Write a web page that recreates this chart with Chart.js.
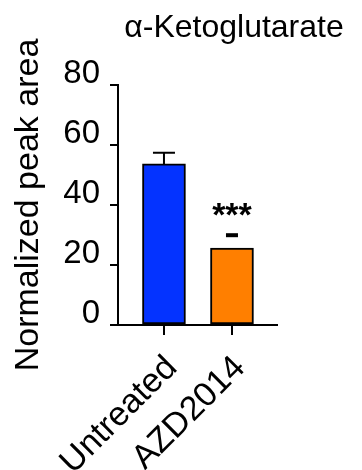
<!DOCTYPE html>
<html>
<head>
<meta charset="utf-8">
<script src="https://cdn.jsdelivr.net/npm/chart.js@4/dist/chart.umd.min.js"></script>
<style>
  html, body { margin: 0; padding: 0; background: #fff; }
  #wrap { width: 362px; height: 470px; }
</style>
</head>
<body>
<div id="wrap"><canvas id="c" width="362" height="470"></canvas></div>
<script>
// Measured metabolite levels per treatment
const categories = ['Untreated', 'AZD2014'];
const peakArea = [53.7, 25.6];
const errorTop = [57.4, null];
const yTicks = [0, 20, 40, 60, 80];
const barColors = ['#0433FF', '#FF7F00'];
const significance = [null, '***'];
const chartTitle = 'α-Ketoglutarate';
const yTitle = 'Normalized peak area';

const FONT = '"Liberation Sans", Arial, Helvetica, sans-serif';

// Error bars, significance marks and the chart heading
const overlay = {
  id: 'overlay',
  afterDatasetsDraw(chart) {
    const { ctx } = chart;
    const yScale = chart.scales.y;
    const meta = chart.getDatasetMeta(0);
    ctx.save();
    ctx.strokeStyle = '#000';
    ctx.fillStyle = '#000';
    ctx.lineWidth = 2;
    meta.data.forEach((bar, i) => {
      if (errorTop[i] != null) {
        const yt = yScale.getPixelForValue(errorTop[i]);
        ctx.beginPath();
        ctx.moveTo(bar.x, bar.y);
        ctx.lineTo(bar.x, yt);
        ctx.moveTo(bar.x - 11, yt);
        ctx.lineTo(bar.x + 11, yt);
        ctx.stroke();
      }
      if (significance[i]) {
        ctx.fillRect(bar.x - 6, bar.y - 15, 12, 4);
        ctx.font = 'bold 34px ' + FONT;
        ctx.textAlign = 'center';
        ctx.textBaseline = 'alphabetic';
        ctx.fillText(significance[i], bar.x, bar.y - 22);
      }
    });
    ctx.font = '32px ' + FONT;
    ctx.textAlign = 'center';
    ctx.textBaseline = 'alphabetic';
    ctx.fillText(chartTitle, 234, 37);
    ctx.restore();
  }
};

new Chart(document.getElementById('c'), {
  type: 'bar',
  data: {
    datasets: [{
      data: peakArea.map((v, i) => ({ x: i, y: v })),
      backgroundColor: barColors,
      borderColor: '#000',
      borderWidth: 2,
      borderSkipped: false,
      barThickness: 43
    }]
  },
  options: {
    responsive: false,
    animation: false,
    devicePixelRatio: 1,
    layout: { padding: { left: 0, right: 85, top: 85, bottom: 0 } },
    plugins: {
      legend: { display: false },
      tooltip: { enabled: false },
      title: { display: false }
    },
    scales: {
      x: {
        type: 'linear',
        min: -0.676,
        max: 1.662,
        offset: false,
        afterBuildTicks: s => { s.ticks = categories.map((_, i) => ({ value: i })); },
        afterFit: s => { s.height = 145; },
        ticks: {
          callback: (v, i) => categories[i],
          minRotation: 45,
          maxRotation: 45,
          autoSkip: false,
          color: '#000',
          padding: 13,
          labelOffset: 8,
          font: { family: FONT, size: 34 }
        },
        grid: { display: true, offset: false, drawOnChartArea: false, tickLength: 10, color: '#000', lineWidth: 2 },
        border: { display: true, color: '#000', width: 2 }
      },
      y: {
        min: 0,
        max: 80,
        afterBuildTicks: s => { s.ticks = yTicks.map(v => ({ value: v })); },
        afterFit: s => { s.width = 118; },
        ticks: {
          color: '#000',
          padding: 10,
          labelOffset: -11,
          font: { family: FONT, size: 33 }
        },
        grid: { display: true, drawOnChartArea: false, tickLength: 8, color: '#000', lineWidth: 2 },
        border: { display: true, color: '#000', width: 2 },
        title: {
          display: true,
          text: yTitle,
          color: '#000',
          padding: { top: 8, bottom: 0 },
          font: { family: FONT, size: 34 }
        }
      }
    }
  },
  plugins: [overlay]
});
</script>
</body>
</html>
